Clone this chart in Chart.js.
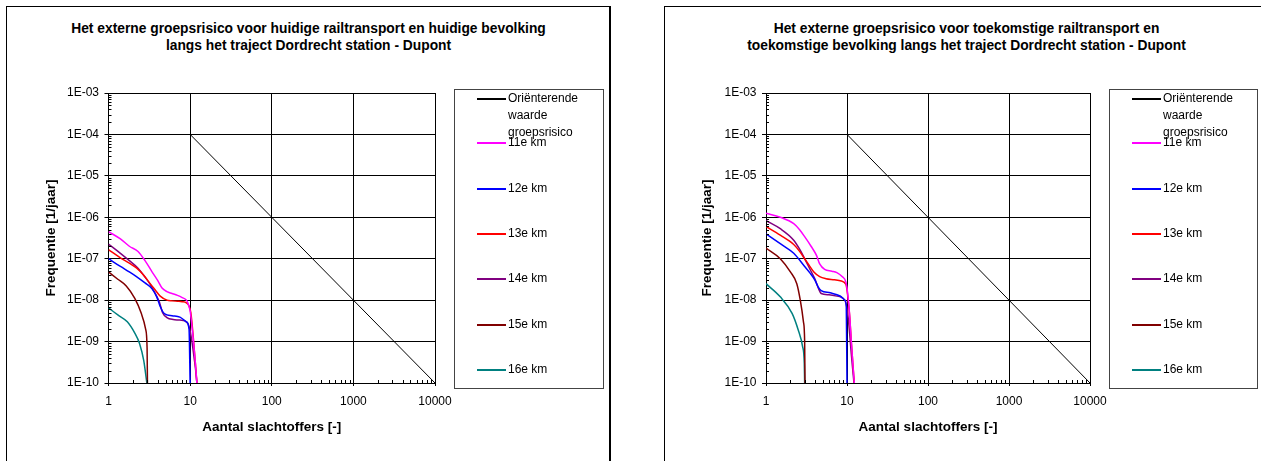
<!DOCTYPE html>
<html>
<head>
<meta charset="utf-8">
<script src="https://cdn.jsdelivr.net/npm/chart.js@4.4.0/dist/chart.umd.min.js"></script>
<style>
  html, body { margin: 0; padding: 0; background: #fff; width: 1261px; height: 461px; overflow: hidden; position: relative; }
  .frame { position: absolute; top: 6px; height: 470px; width: 605px; border: 1px solid #000; box-sizing: border-box; }
  #frameLeft { left: 6px; border-right-width: 2px; }
  #frameRight { left: 664px; }
  .title { position: absolute; top: 19.5px; width: 605px; text-align: center; font: bold 13.8px "Liberation Sans", Arial, sans-serif; line-height: 17px; color: #000; }
  canvas { position: absolute; top: 6px; }
  .legend { position: absolute; top: 89px; height: 300px; border: 1px solid #444; box-sizing: border-box; font: 12px "Liberation Sans", Arial, sans-serif; color: #000; }
  .legend .item { position: absolute; left: 0; right: 2px; line-height: 17px; }
  .legend .swatch { position: absolute; left: 22px; width: 29px; top: 8px; height: 2px; }
  .legend .text { margin-left: 53px; }
</style>
</head>
<body>
<div class="frame" id="frameLeft"></div>
<div class="frame" id="frameRight"></div>
<div class="title" id="titleLeft" style="left:6px"></div>
<div class="title" id="titleRight" style="left:664px"></div>
<canvas id="chartLeft" width="603" height="455" style="left:7px"></canvas>
<canvas id="chartRight" width="603" height="455" style="left:664px"></canvas>
<div class="legend" id="legendLeft" style="left:454px;width:150px"></div>
<div class="legend" id="legendRight" style="left:1109px;width:149px"></div>
<script>
// tick values / labels
const xTickValues = [1, 10, 100, 1000, 10000];
const xTickLabels = ['1', '10', '100', '1000', '10000'];
const yTickValues = [1e-10, 1e-9, 1e-8, 1e-7, 1e-6, 1e-5, 1e-4, 1e-3];
const yTickLabels = ['1E-10', '1E-09', '1E-08', '1E-07', '1E-06', '1E-05', '1E-04', '1E-03'];

const titleLeft = ['Het externe groepsrisico voor huidige railtransport en huidige bevolking',
                   'langs het traject Dordrecht station - Dupont'];
const titleRight = ['Het externe groepsrisico voor toekomstige railtransport en',
                    'toekomstige bevolking langs het traject Dordrecht station - Dupont'];

const seriesLabels = ['Oriënterende waarde groepsrisico', '11e km', '12e km', '13e km', '14e km', '15e km', '16e km'];
const seriesColors = ['#000000', '#FF00FF', '#0000FF', '#FF0000', '#800080', '#800000', '#008080'];

// [aantal slachtoffers, frequentie]
const orientatie = [[10, 1e-4], [10000, 1e-10]];

// huidige situatie
const huidig11 = [[1, 4.5e-7], [1.4, 3.0e-7], [1.8, 2.0e-7], [2.3, 1.5e-7], [2.8, 9e-8], [3.4, 4.9e-8], [4.0, 3.0e-8], [4.5, 2.0e-8],
                  [5.2, 1.6e-8], [6.0, 1.45e-8], [7.0, 1.3e-8], [8.0, 1.15e-8], [9.0, 1.0e-8], [9.5, 8e-9], [10, 5.5e-9],
                  [10.5, 2.5e-9], [11, 1e-9], [11.6, 3e-10], [12.1, 1e-10]];
const huidig12 = [[1, 1.0e-7], [1.4, 6.5e-8], [1.8, 4.8e-8], [2.2, 3.7e-8], [2.8, 2.6e-8], [3.4, 1.9e-8], [3.9, 1.2e-8], [4.3, 7e-9],
                  [4.7, 5e-9], [5.2, 4.4e-9], [6.0, 4.2e-9], [7.5, 3.9e-9], [9.0, 3.0e-9], [9.7, 2.0e-9], [10, 1e-10]];
const huidig13 = [[1, 1.65e-7], [1.4, 1.05e-7], [1.8, 7.8e-8], [2.2, 6e-8], [2.7, 4e-8], [3.1, 2.8e-8], [3.7, 1.8e-8], [4.3, 1.25e-8],
                  [5.2, 1.0e-8], [6.0, 9.6e-9], [7.0, 9.4e-9], [8.0, 9.2e-9], [9.0, 8.6e-9], [9.7, 7.2e-9], [10.2, 5e-9],
                  [10.6, 2.5e-9], [11, 1.1e-9], [11.6, 3e-10], [12.1, 1e-10]];
const huidig14 = [[1, 2.25e-7], [1.4, 1.35e-7], [1.8, 9e-8], [2.3, 5.9e-8], [2.8, 3.6e-8], [3.2, 2.5e-8], [3.7, 1.5e-8], [4.2, 9e-9],
                  [4.6, 5e-9], [5.2, 3.8e-9], [6.2, 3.4e-9], [7.5, 3.3e-9], [8.7, 3.1e-9], [9.5, 2.6e-9], [10, 1.8e-9],
                  [10.6, 9e-10], [11.2, 4e-10], [11.7, 2e-10], [12.1, 1e-10]];
const huidig15 = [[1, 4.8e-8], [1.3, 3.2e-8], [1.65, 2.2e-8], [2.1, 1.1e-8], [2.5, 5e-9], [2.85, 2e-9], [2.97, 7e-10], [3.0, 1e-10]];
const huidig16 = [[1, 6.5e-9], [1.3, 4.4e-9], [1.7, 3e-9], [2.1, 1.6e-9], [2.4, 9e-10], [2.7, 3.5e-10], [2.95, 1e-10]];

// toekomstige situatie
const toekomst11 = [[1, 1.25e-6], [1.5, 1.0e-6], [2.2, 7e-7], [2.6, 5e-7], [3.0, 3.4e-7], [3.6, 2e-7], [4.2, 1.2e-7], [4.6, 7.5e-8],
                    [5.3, 5.5e-8], [6.5, 5e-8], [7.5, 4.6e-8], [8.7, 3.7e-8], [9.7, 2.7e-8], [10.3, 1.2e-8], [10.8, 4e-9],
                    [11.3, 1e-9], [11.8, 3e-10], [12.3, 1e-10]];
const toekomst12 = [[1, 4e-7], [1.5, 2.3e-7], [2.2, 1.35e-7], [3.0, 6.5e-8], [3.5, 4.5e-8], [4.0, 3.1e-8], [4.4, 2.1e-8], [4.8, 1.7e-8],
                    [6.2, 1.5e-8], [8.2, 1.26e-8], [9.4, 1.0e-8], [9.8, 7e-9], [10, 1e-10]];
const toekomst13 = [[1, 6e-7], [1.5, 3.7e-7], [2.2, 2.2e-7], [2.6, 1.5e-7], [3.0, 1.0e-7], [3.4, 7e-8], [3.9, 4.8e-8], [4.6, 3.7e-8],
                    [5.5, 3.3e-8], [7.0, 3.1e-8], [8.5, 2.9e-8], [9.7, 2.4e-8], [10.3, 1.1e-8], [10.8, 4e-9], [11.3, 1e-9],
                    [11.8, 3e-10], [12.3, 1e-10]];
const toekomst14 = [[1, 8.3e-7], [1.5, 5.3e-7], [2.2, 2.8e-7], [2.6, 1.7e-7], [3.0, 1.0e-7], [3.5, 5.5e-8], [4.0, 3.3e-8], [4.4, 2e-8],
                    [4.8, 1.45e-8], [6.0, 1.35e-8], [7.5, 1.25e-8], [8.7, 1.15e-8], [9.7, 8.5e-9], [10.3, 4e-9], [10.8, 1.5e-9],
                    [11.3, 5e-10], [11.8, 2e-10], [12.2, 1e-10]];
const toekomst15 = [[1, 1.8e-7], [1.5, 1.0e-7], [2.0, 4.8e-8], [2.4, 2.5e-8], [2.65, 1.0e-8], [2.9, 3e-9], [3.0, 1e-9], [3.03, 1e-10]];
const toekomst16 = [[1, 2.5e-8], [1.5, 1.2e-8], [2.1, 4.8e-9], [2.5, 1.9e-9], [2.83, 7.6e-10], [2.97, 3e-10], [3.0, 1e-10]];

const fontFamily = '"Liberation Sans", Arial, sans-serif';

function toPoints(pairs) {
  return pairs.map(p => ({x: p[0], y: p[1]}));
}

function minorValues(min, max) {
  const out = [];
  for (let e = Math.round(Math.log10(min)); e < Math.round(Math.log10(max)); e++) {
    for (let k = 2; k <= 9; k++) out.push(k * Math.pow(10, e));
  }
  return out;
}

// small inner ticks between the decades, like Excel draws them
const minorTicks = {
  id: 'minorTicks',
  afterDraw(chart) {
    const {ctx, chartArea, scales: {x, y}} = chart;
    ctx.save();
    ctx.strokeStyle = '#000';
    ctx.lineWidth = 1;
    ctx.beginPath();
    minorValues(x.min, x.max).forEach(v => {
      const px = Math.round(x.getPixelForValue(v)) + 0.5;
      ctx.moveTo(px, chartArea.bottom);
      ctx.lineTo(px, chartArea.bottom - 3);
    });
    minorValues(y.min, y.max).forEach(v => {
      const py = Math.round(y.getPixelForValue(v)) + 0.5;
      ctx.moveTo(chartArea.left, py);
      ctx.lineTo(chartArea.left + 3, py);
    });
    ctx.stroke();
    ctx.restore();
  }
};

function buildChart(canvasId, series, yWidth, padRight, yTitlePad) {
  const datasets = [{
    label: seriesLabels[0],
    data: toPoints(orientatie),
    borderColor: seriesColors[0],
    borderWidth: 1
  }];
  series.forEach((s, i) => {
    datasets.push({
      label: seriesLabels[i + 1],
      data: toPoints(s),
      borderColor: seriesColors[i + 1],
      borderWidth: 1.5,
      cubicInterpolationMode: 'monotone'
    });
  });

  return new Chart(document.getElementById(canvasId), {
    type: 'line',
    data: {datasets: datasets},
    options: {
      responsive: false,
      animation: false,
      events: [],
      layout: {padding: {left: 0, top: 87, right: padRight, bottom: 25.9}},
      elements: {point: {radius: 0}},
      plugins: {
        legend: {display: false},
        tooltip: {enabled: false}
      },
      scales: {
        x: {
          type: 'logarithmic',
          min: 1,
          max: 10000,
          afterBuildTicks: scale => { scale.ticks = xTickValues.map(v => ({value: v})); },
          afterFit: scale => { scale.height = 52.1; },
          ticks: {
            autoSkip: false,
            maxRotation: 0,
            padding: 8.8,
            color: '#000',
            font: {family: fontFamily, size: 12},
            callback: (v, i) => xTickLabels[i]
          },
          grid: {color: '#000', lineWidth: 1, tickColor: '#000', tickLength: 3},
          border: {color: '#000', width: 1},
          title: {
            display: true,
            text: 'Aantal slachtoffers [-]',
            color: '#000',
            font: {family: fontFamily, size: 13.5, weight: 'bold'},
            padding: {top: 0, bottom: 0}
          }
        },
        y: {
          type: 'logarithmic',
          min: 1e-10,
          max: 1e-3,
          afterBuildTicks: scale => { scale.ticks = yTickValues.map(v => ({value: v})); },
          afterFit: scale => { scale.width = yWidth; },
          ticks: {
            autoSkip: false,
            padding: 5.5,
            color: '#000',
            font: {family: fontFamily, size: 12},
            callback: (v, i) => yTickLabels[i]
          },
          grid: {color: '#000', lineWidth: 1, tickColor: '#000', tickLength: 4},
          border: {color: '#000', width: 1},
          title: {
            display: true,
            text: 'Frequentie [1/jaar]',
            color: '#000',
            font: {family: fontFamily, size: 13.5, weight: 'bold'},
            padding: {top: yTitlePad, bottom: 0}
          }
        }
      }
    },
    plugins: [minorTicks]
  });
}

function buildLegend(chart, legendId) {
  const box = document.getElementById(legendId);
  chart.data.datasets.forEach((ds, i) => {
    const item = document.createElement('div');
    item.className = 'item';
    item.style.top = Math.round(i === 0 ? 0 : 44.2 + (i - 1) * 45.4) + 'px';
    const swatch = document.createElement('span');
    swatch.className = 'swatch';
    swatch.style.background = ds.borderColor;
    const text = document.createElement('div');
    text.className = 'text';
    text.textContent = ds.label;
    item.append(swatch, text);
    box.append(item);
  });
}

function setTitle(id, lines) {
  const el = document.getElementById(id);
  lines.forEach((line, i) => {
    if (i > 0) el.append(document.createElement('br'));
    el.append(document.createTextNode(line));
  });
}

setTitle('titleLeft', titleLeft);
setTitle('titleRight', titleRight);

const chartLeft = buildChart('chartLeft', [huidig11, huidig12, huidig13, huidig14, huidig15, huidig16], 101.5, 175, 35.9);
const chartRight = buildChart('chartRight', [toekomst11, toekomst12, toekomst13, toekomst14, toekomst15, toekomst16], 102, 177, 34.9);
buildLegend(chartLeft, 'legendLeft');
buildLegend(chartRight, 'legendRight');
</script>
</body>
</html>
